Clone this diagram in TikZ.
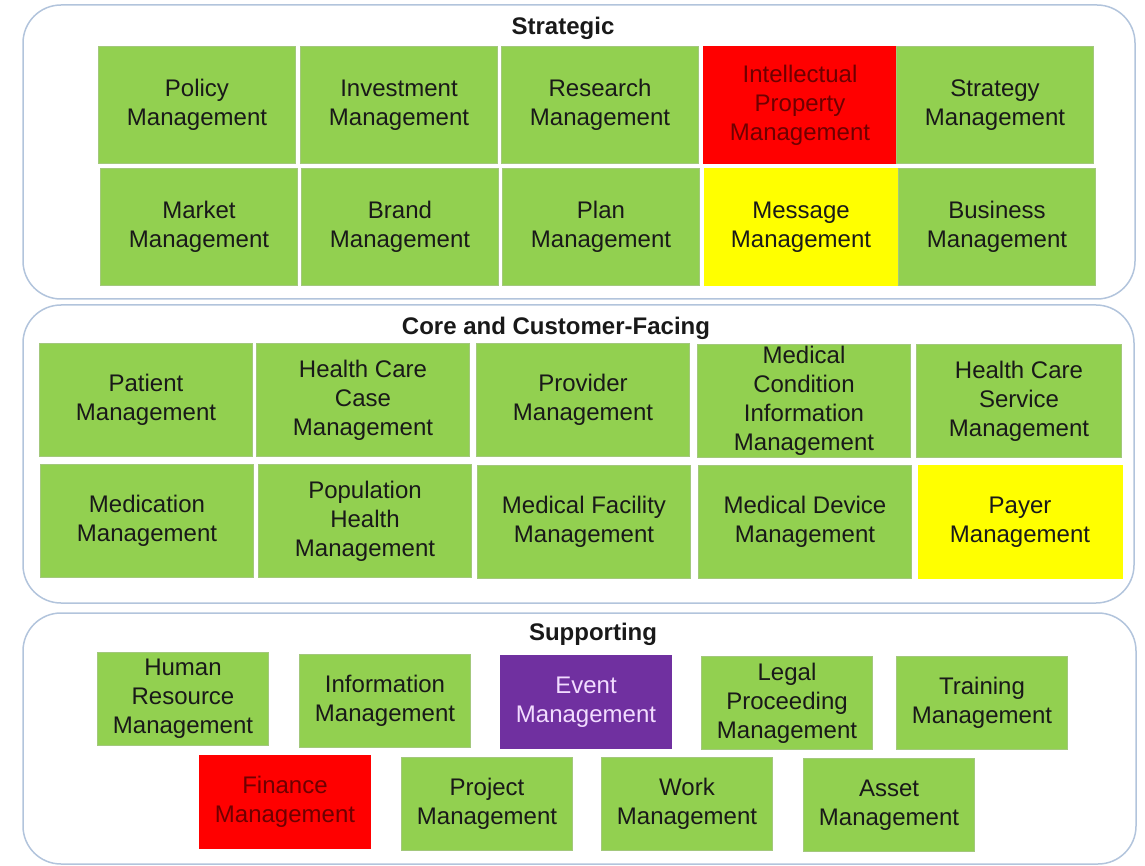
\documentclass[tikz,border=0pt]{standalone}
\usepackage{fontspec}
\setmainfont{Liberation Sans}
\definecolor{boxgreen}{RGB}{146,208,80}
\definecolor{boxred}{RGB}{255,0,0}
\definecolor{boxyellow}{RGB}{255,255,0}
\definecolor{boxpurple}{RGB}{112,48,160}
\definecolor{redtext}{RGB}{110,0,0}
\definecolor{eventtext}{RGB}{242,220,255}
\definecolor{panelline}{RGB}{178,196,220}
\begin{document}
\begin{tikzpicture}[x=1pt,y=-1pt,
  panel/.style={draw=panelline,line width=1.5pt,rounded corners=38pt},
  paneltitle/.style={font=\bfseries\fontsize{24}{29}\selectfont,text=black!90,inner sep=0pt},
  capbox/.style={fill=boxgreen,draw=boxgreen!85!black!70,line width=0.4pt,inner sep=0pt,
    align=center,font=\fontsize{24}{29}\selectfont,text=black!90},
  strat/.style={capbox,minimum width=197pt,minimum height=117pt},
  core/.style={capbox,minimum width=213pt,minimum height=113pt},
  supp/.style={capbox,minimum width=171pt,minimum height=93pt},
  redbox/.style={fill=boxred,draw=boxred,text=redtext},
  yellowbox/.style={fill=boxyellow,draw=boxyellow},
  purplebox/.style={fill=boxpurple,draw=boxpurple,text=eventtext}]
  \useasboundingbox (0,0) rectangle (1145,866);

	% Panels
	\draw[panel] (23,5) rectangle (1135,299);
	\draw[panel] (23,305) rectangle (1134,603);
	\draw[panel] (23,613) rectangle (1136,864);

	% Strategic
	\node[paneltitle] (strattitle) at (563,28) {Strategic};
	\node[strat] (policy) at (197,105) {Policy\\Management};
	\node[strat] (invest) at (399,105) {Investment\\Management};
	\node[strat] (research) at (600,105) {Research\\Management};
	\node[strat,redbox,minimum width=194pt] (ipm) at (800,105) {Intellectual\\Property\\Management};
	\node[strat] (strategy) at (995,105) {Strategy\\Management};
	\node[strat] (market) at (199,227) {Market\\Management};
	\node[strat] (brand) at (400,227) {Brand\\Management};
	\node[strat] (plan) at (601,227) {Plan\\Management};
	\node[strat,yellowbox,minimum width=194pt] (message) at (801,227) {Message\\Management};
	\node[strat] (business) at (997,227) {Business\\Management};

	% Core and Customer-Facing
	\node[paneltitle] (coretitle) at (556,328) {Core and Customer-Facing};
	\node[core] (patient) at (146,400) {Patient\\Management};
	\node[core] (hccase) at (363,400) {Health Care\\Case\\Management};
	\node[core] (provider) at (583,400) {Provider\\Management};
	\node[core] (medcond) at (804,401) {Medical\\Condition\\Information\\Management};
	\node[core,minimum width=205pt] (hcservice) at (1019,401) {Health Care\\Service\\Management};
	\node[core] (medication) at (147,521) {Medication\\Management};
	\node[core] (population) at (365,521) {Population\\Health\\Management};
	\node[core] (facility) at (584,522) {Medical Facility\\Management};
	\node[core] (device) at (805,522) {Medical Device\\Management};
	\node[core,yellowbox,minimum width=204pt] (payer) at (1020,522) {Payer\\Management};

	% Supporting
	\node[paneltitle] (supptitle) at (593,634) {Supporting};
	\node[supp] (human) at (183,699) {Human\\Resource\\Management};
	\node[supp] (information) at (385,701) {Information\\Management};
	\node[supp,purplebox] (event) at (586,702) {Event\\Management};
	\node[supp] (legal) at (787,703) {Legal\\Proceeding\\Management};
	\node[supp] (training) at (982,703) {Training\\Management};
	\node[supp,redbox] (finance) at (285,802) {Finance\\Management};
	\node[supp] (project) at (487,804) {Project\\Management};
	\node[supp] (work) at (687,804) {Work\\Management};
	\node[supp] (asset) at (889,805) {Asset\\Management};
\end{tikzpicture}
\end{document}
